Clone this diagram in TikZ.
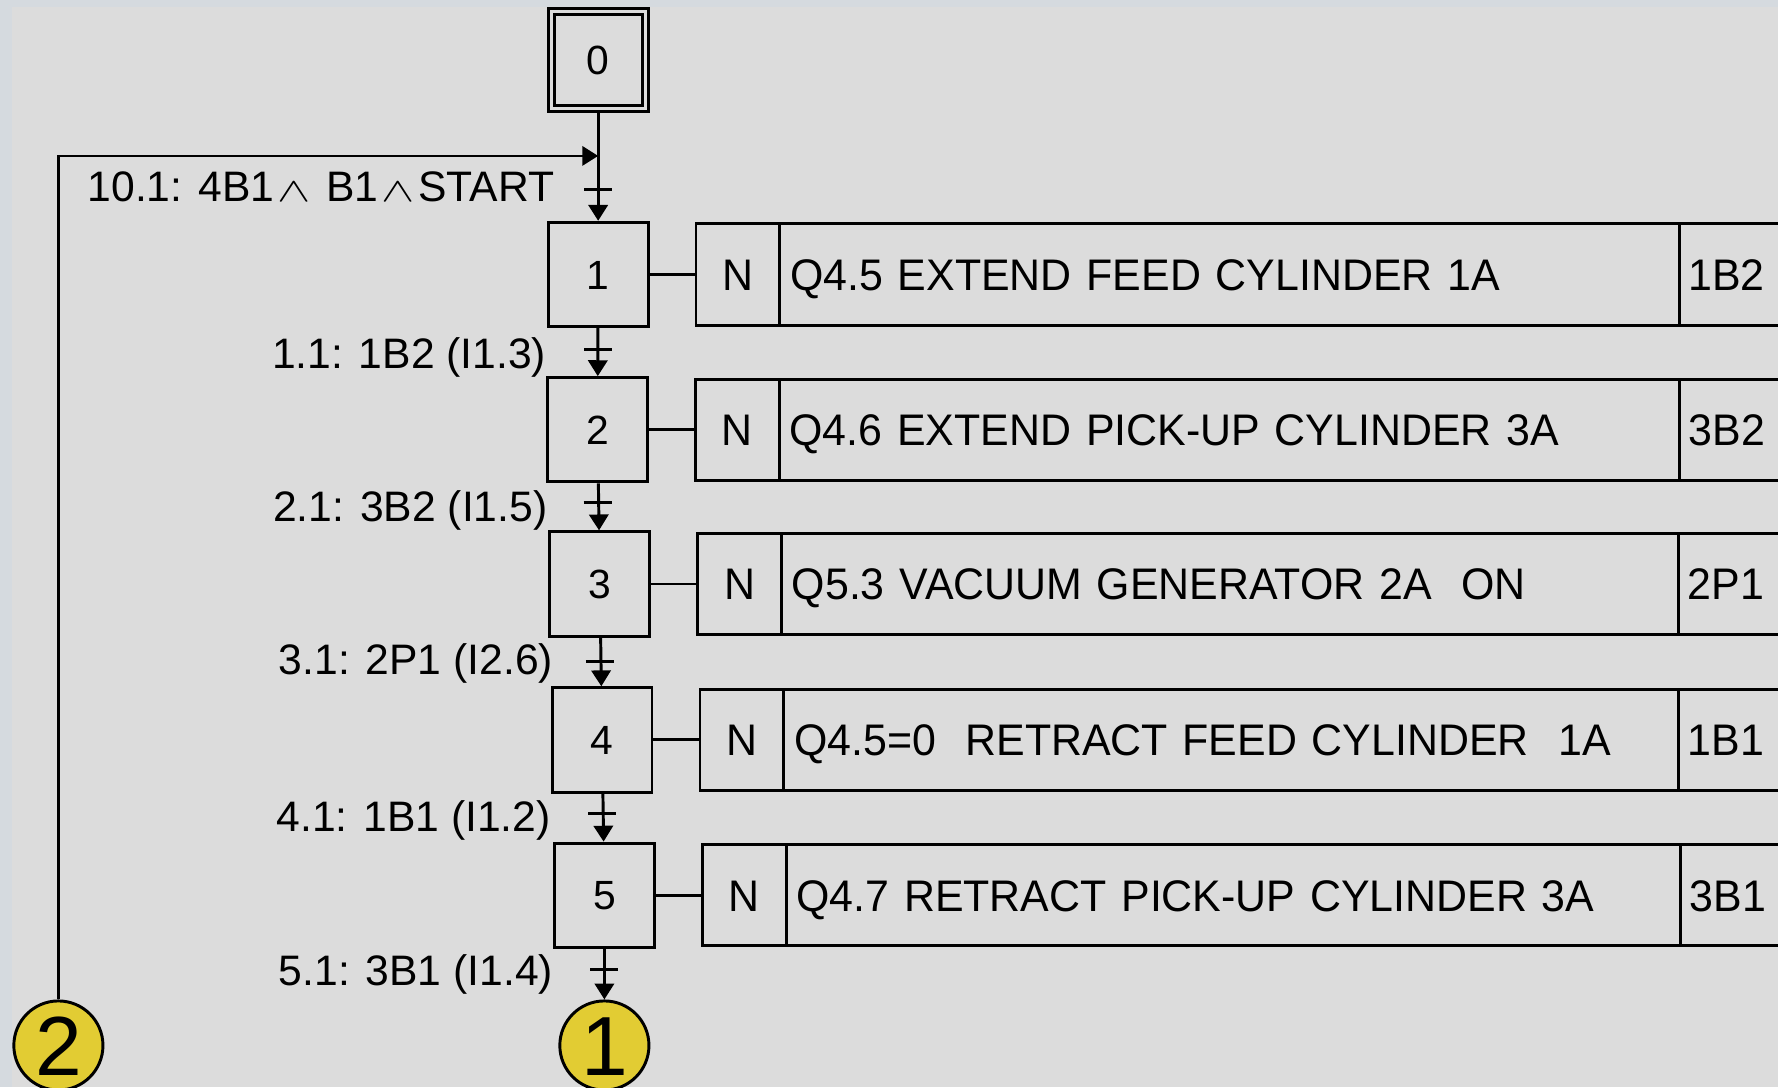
\documentclass[tikz,border=0pt]{standalone}
\usepackage{fontspec}
\usepackage{graphicx}
\setmainfont{Liberation Sans}
\newfontfamily\actfont[FakeStretch=0.97]{Liberation Sans}
\usetikzlibrary{arrows.meta,positioning}
\definecolor{ink}{HTML}{000000}
\definecolor{panel}{HTML}{DCDCDC}
\definecolor{rim}{HTML}{D5DADF}
\definecolor{signal}{HTML}{E2CC33}
\newcommand{\lgand}{\hspace{1.5pt}\scalebox{2.2}[1.5]{\fontsize{10}{12}\selectfont$\wedge$}\hspace{1.5pt}}

\begin{document}
\begin{tikzpicture}[x=0.5pt,y=-0.5pt,line width=1.3pt,
  >={Triangle[length=7pt,width=8.5pt]},
  stepbox/.style={draw=ink,minimum width=44pt,minimum height=46pt,inner sep=0pt,
    font=\fontsize{18}{20}\selectfont,text height=12.9pt,text depth=0pt},
  initstep/.style={stepbox,double=panel,double distance=1.3pt,
    minimum width=41.5pt,minimum height=43pt},
  actcell/.style={draw=ink,minimum height=44.7pt,inner sep=0pt,outer sep=0pt,
    font=\actfont\fontsize{19.5}{22}\selectfont,text height=14pt,text depth=0pt},
  ncell/.style={actcell,minimum width=37pt},
  qcell/.style={actcell,inner xsep=4.5pt,align=left},
  bcell/.style={actcell,inner xsep=4pt,text width=100pt,align=left},
  trtext/.style={inner sep=0pt,font=\fontsize{18.8}{21}\selectfont},
  linkmark/.style={circle,draw=ink,fill=signal,minimum size=39.3pt,inner sep=0pt,
    font=\fontsize{37}{40}\selectfont,text height=26.5pt,text depth=0pt}]

  % background and frame
  \fill[rim] (0,0) rectangle (1568,959);
  \fill[panel] (11,6) rectangle (1568,959);
  \useasboundingbox (0,0) rectangle (1568,959);
  \clip (0,0) rectangle (1568,959);

  % steps
  \node[initstep] (s0) at (527.5,53) {0};
  \foreach \i/\x/\y in {1/527.5/242,2/527/379,3/529/515,4/531/652.5,5/533/789.5}
    \node[stepbox] (s\i) at (\x,\y) {\i};

  % actions
  \foreach \i/\w/\act/\sen in {1/387.5/Q4.5 EXTEND FEED CYLINDER 1A/1B2,
      2/388/Q4.6 EXTEND PICK-UP CYLINDER 3A/3B2,
      3/386.5/Q5.3 VACUUM GENERATOR 2A~~ON/2P1,
      4/385.5/Q4.5=0~~RETRACT FEED CYLINDER~~1A/1B1,
      5/385.5/Q4.7 RETRACT PICK-UP CYLINDER 3A/3B1}
  {
    \node[ncell,right=20.5pt of s\i] (n\i) {N};
    \node[qcell,text width=\w pt,right=0pt of n\i] (q\i) {\act};
    \node[bcell,right=0pt of q\i] (b\i) {\sen};
    \draw (s\i) -- (n\i);
  }

  % connection marks
  \node[linkmark] (c2) at (51.5,922) {2};
  \node[linkmark] (c1) at (533,922) {1};

  % transitions
  \foreach \i/\x/\y in {0/527.5/167,1/527.5/308,2/527/443,3/529/583,4/531/717,5/533/855}
    \coordinate (t\i) at (\x,\y);
  \coordinate (jn) at (527.5,137.5);
  \draw[->] (s0) -- (s1);
  \foreach \i/\j in {1/2,2/3,3/4,4/5}
    \draw[->] (s\i) -- (s\j);
  \draw[->] (s5) -- (c1);
  \draw[->,line width=1.2pt] (c2) |- (jn);
  \foreach \i in {0,...,5}
    \draw ([xshift=-6.2pt]t\i) -- ([xshift=6.2pt]t\i);

  \foreach \i/\x/\y/\txt in {0/490/178/{10.1: 4B1\lgand{} B1\lgand{}START},
      1/483/325/{1.1: 1B2 (I1.3)},2/484/460/{2.1: 3B2 (I1.5)},
      3/489/595/{3.1: 2P1 (I2.6)},4/487/733/{4.1: 1B1 (I1.2)},
      5/489/869/{5.1: 3B1 (I1.4)}}
    \node[trtext,anchor=base east] (l\i) at (\x,\y) {\txt};
\end{tikzpicture}
\end{document}
